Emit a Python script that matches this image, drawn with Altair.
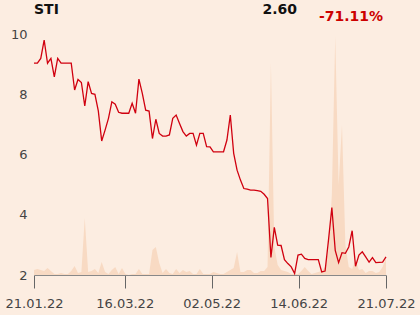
import altair as alt
import pandas as pd

price = [9.03, 9.03, 9.19, 9.80, 9.03, 9.19, 8.58, 9.19, 9.03, 9.03,
         9.03, 9.03, 8.14, 8.49, 8.39, 7.61, 8.42, 8.03, 8.00, 7.45,
         6.45, 6.81, 7.20, 7.75, 7.67, 7.40, 7.37, 7.37, 7.37, 7.70,
         7.37, 8.50, 8.03, 7.47, 7.44, 6.53, 7.17, 6.70, 6.61, 6.61,
         6.65, 7.20, 7.31, 7.03, 6.76, 6.61, 6.70, 6.70, 6.31, 6.70,
         6.70, 6.26, 6.25, 6.09, 6.09, 6.09, 6.09, 6.48, 7.31, 6.04,
         5.48, 5.15, 4.87, 4.85, 4.82, 4.82, 4.80, 4.78, 4.68, 4.54,
         2.58, 3.58, 2.99, 2.98, 2.51, 2.38, 2.27, 2.05, 2.66, 2.69,
         2.55, 2.51, 2.51, 2.51, 2.51, 2.10, 2.13, 3.15, 4.24, 2.82,
         2.41, 2.74, 2.72, 2.93, 3.47, 2.29, 2.66, 2.77, 2.60, 2.43,
         2.58, 2.41, 2.42, 2.43, 2.60]

volume = [5, 6, 5, 4, 7, 4, 1, 1, 2, 1,
          1, 4, 9, 2, 3, 57, 3, 4, 6, 2,
          13, 3, 1, 5, 8, 1, 7, 1, 0, 1,
          1, 6, 1, 1, 1, 25, 28, 12, 2, 6,
          2, 1, 6, 2, 5, 3, 4, 1, 1, 6,
          1, 1, 1, 3, 2, 1, 1, 3, 5, 7,
          23, 3, 3, 5, 5, 2, 2, 4, 4, 8,
          212, 28, 10, 5, 4, 3, 1, 1, 1, 4,
          8, 4, 1, 2, 3, 4, 8, 25, 80, 239,
          90, 150, 30, 8, 6, 15, 5, 6, 2, 4,
          4, 2, 3, 8, 17]

tick_pos = [0, 26.8, 52.5, 78.2, 104]
tick_labels = ["21.01.22", "16.03.22", "02.05.22", "14.06.22", "21.07.22"]

name = "STI"
last_value = "2.60"
change = "-71.11%"

df = pd.DataFrame({"i": list(range(len(price))), "price": price, "volume": volume})

label_expr = " : ".join(
    [f"datum.value == {p} ? '{l}'" for p, l in zip(tick_pos, tick_labels)]
) + " : ''"

FONT = "DejaVu Sans"

x_enc = alt.X(
    "i:Q",
    scale=alt.Scale(domain=[0, len(price) - 1], nice=False, zero=False),
    axis=alt.Axis(
        values=tick_pos, labelExpr=label_expr, title=None, grid=False,
        domainColor="#888888", tickColor="#666666", tickSize=13,
        labelFontSize=13, labelColor="#444444", labelFont=FONT,
        labelPadding=9, labelFlush=False,
    ),
)

base = alt.Chart(df)

vol = base.mark_area(color="#f8dac3", opacity=1, interpolate="linear").encode(
    x=x_enc,
    y=alt.Y("volume:Q", scale=alt.Scale(domain=[0, 241], nice=False), axis=None),
)

line = base.mark_line(color="#d0000f", strokeWidth=1.3).encode(
    x=x_enc,
    y=alt.Y(
        "price:Q",
        scale=alt.Scale(domain=[2, 10], nice=False, zero=False),
        axis=alt.Axis(
            values=[2, 4, 6, 8, 10], title=None, domain=False, ticks=False,
            gridColor="#aaaaaa", gridWidth=1, labelFontSize=13,
            labelColor="#444444", labelFont=FONT, labelPadding=7,
        ),
    ),
)

hdr = pd.DataFrame({"t": [0]})
t1 = alt.Chart(hdr).mark_text(
    text=name, font=FONT, fontSize=14, fontWeight="bold", color="#111111",
    align="left", baseline="middle",
).encode(x=alt.value(0), y=alt.value(-24))
t2 = alt.Chart(hdr).mark_text(
    text=last_value, font=FONT, fontSize=14, fontWeight="bold", color="#111111",
    align="right", baseline="middle",
).encode(x=alt.value(263), y=alt.value(-24))
t3 = alt.Chart(hdr).mark_text(
    text=change, font=FONT, fontSize=14, fontWeight="bold", color="#cc0000",
    align="right", baseline="middle",
).encode(x=alt.value(349), y=alt.value(-17))

chart = alt.layer(vol, line, t1, t2, t3).resolve_scale(y="independent").properties(
    width=352, height=241,
    autosize=alt.AutoSizeParams(type="none"),
    padding={"left": 34, "top": 34, "right": 34, "bottom": 40},
    background="#fcede1",
).configure_view(stroke=None)

chart.save("out.html", embed_options={"renderer": "svg", "actions": False})
